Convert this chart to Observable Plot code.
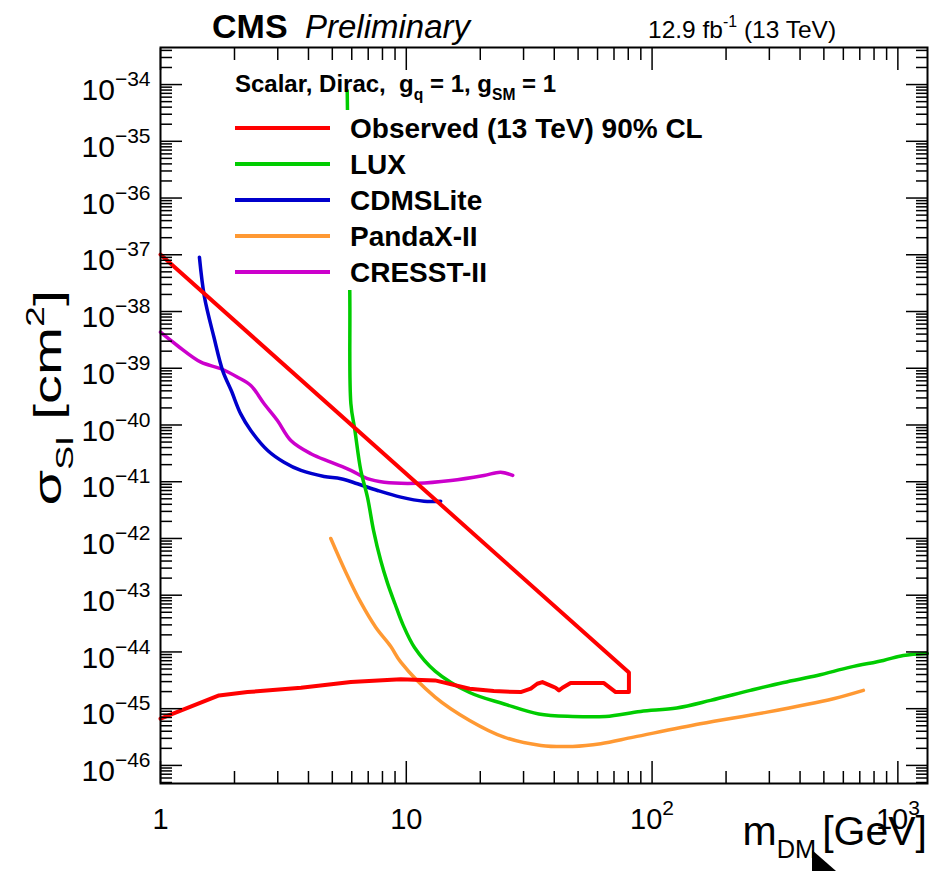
<!DOCTYPE html>
<html><head><meta charset="utf-8">
<script src="https://cdn.jsdelivr.net/npm/d3@7"></script>
<script src="https://cdn.jsdelivr.net/npm/@observablehq/plot@0.6"></script>
<style>
body{margin:0;background:#fff;}
#wrap{position:relative;width:941px;height:871px;}
svg{font-family:"Liberation Sans",Arial,Helvetica,sans-serif;}
</style></head><body><div id="wrap"></div>
<script>
// ---- data ----
const xMajorTicks = [1, 10, 100, 1000];
const xTickLabels = ["1", "10", "10^2", "10^3"];
const yMajorTicks = [1e-46,1e-45,1e-44,1e-43,1e-42,1e-41,1e-40,1e-39,1e-38,1e-37,1e-36,1e-35,1e-34];
const yTickLabels = ["10^-46","10^-45","10^-44","10^-43","10^-42","10^-41","10^-40","10^-39","10^-38","10^-37","10^-36","10^-35","10^-34"];

const seriesNames = ["Observed (13 TeV) 90% CL", "LUX", "CDMSLite", "PandaX-II", "CRESST-II"];
const seriesColors = ["#ff0000", "#00cc00", "#0000cc", "#ff9933", "#cc00cc"];

const observedMass  = [1.0, 80.5, 80.5, 71.1, 63.7, 46.6, 43.2, 41.8, 40.5, 39.3, 35.8, 34.1, 32.1, 29.2, 22.7, 18.1, 13.1, 9.5, 5.95, 3.73, 2.26, 1.73, 1.0];
const observedSigma = [1.01e-37, 4.35e-45, 1.96e-45, 1.96e-45, 2.83e-45, 2.83e-45, 2.34e-45, 2.1e-45, 2.34e-45, 2.47e-45, 2.94e-45, 2.75e-45, 2.25e-45, 1.96e-45, 2.04e-45, 2.25e-45, 3.15e-45, 3.3e-45, 2.94e-45, 2.34e-45, 1.96e-45, 1.71e-45, 6.65e-46];

const luxMass  = [5.75, 5.89, 5.95, 6.18, 6.53, 6.95, 7.36, 7.87, 8.4, 9.0, 9.7, 10.8, 13.1, 18.1, 25.0, 34.6, 47.5, 64.7, 89.8, 126, 173, 251, 343, 470, 641, 873, 1052, 1318];
const luxSigma = [7.84e-35, 2.16e-38, 2.39e-40, 8.0e-41, 1.58e-41, 5.35e-42, 1.38e-42, 4.09e-43, 1.6e-43, 7.0e-44, 3.0e-44, 1.2e-44, 4.6e-45, 1.93e-45, 1.21e-45, 8.07e-46, 7.3e-46, 7.3e-46, 8.95e-46, 1.03e-45, 1.4e-45, 2.1e-45, 2.9e-45, 3.85e-45, 5.4e-45, 7.08e-45, 8.67e-45, 9.4e-45];

const cdmsMass  = [1.44, 1.51, 1.65, 1.79, 1.94, 2.12, 2.33, 2.73, 3.18, 3.73, 4.63, 5.42, 6.33, 7.64, 9.5, 11.8, 13.8];
const cdmsSigma = [9.06e-38, 1.79e-38, 3.52e-39, 9.1e-40, 4.05e-40, 1.57e-40, 8.0e-41, 3.56e-41, 2.21e-41, 1.58e-41, 1.24e-41, 1.13e-41, 9.2e-42, 7.0e-42, 5.35e-42, 4.54e-42, 4.54e-42];

const pandaMass  = [4.93, 5.68, 6.53, 7.52, 8.65, 9.5, 13.1, 18.1, 25.0, 35.3, 47.5, 61.8, 84.1, 157, 294, 547, 724];
const pandaSigma = [1.0e-42, 2.52e-43, 7.45e-44, 2.7e-44, 1.25e-44, 6.6e-45, 1.6e-45, 6.2e-46, 3.15e-46, 2.25e-46, 2.16e-46, 2.41e-46, 3.15e-46, 5.43e-46, 8.7e-46, 1.5e-45, 2.1e-45];

const cresstMass  = [1.0, 1.17, 1.46, 1.76, 2.06, 2.33, 2.64, 2.99, 3.39, 4.09, 4.93, 5.95, 6.95, 8.13, 11.1, 15.2, 20.7, 24.2, 27.1];
const cresstSigma = [4.32e-39, 2.52e-39, 1.28e-39, 9.8e-40, 6.95e-40, 4.97e-40, 2.37e-40, 1.2e-40, 5.33e-41, 3.11e-41, 2.21e-41, 1.58e-41, 1.13e-41, 9.8e-42, 9.4e-42, 1.05e-41, 1.29e-41, 1.47e-41, 1.29e-41];

// ---- build tables ----
const pts = (m, s) => m.map((x, i) => ({x, y: s[i]}));
const observed = pts(observedMass, observedSigma);
const lux = pts(luxMass, luxSigma);
const cdms = pts(cdmsMass, cdmsSigma);
const panda = pts(pandaMass, pandaSigma);
const cresst = pts(cresstMass, cresstSigma);

const xMinor = xMajorTicks.flatMap(d => d3.range(2, 10).map(k => k * d)).filter(v => v < 1320);
const yMinor = [1e-47, ...yMajorTicks].flatMap(d => d3.range(2, 10).map(k => k * d)).filter(v => v > 4.8e-47 && v < 4.5e-34);

const xLabelMap = new Map(xMajorTicks.map((d, i) => [d, xTickLabels[i]]));
const yLabelMap = new Map(yMajorTicks.map((d, i) => [d, yTickLabels[i]]));

const tk = {color: "black", strokeWidth: 1.5, label: null, tickFormat: () => ""};

const svg = Plot.plot({
  width: 941, height: 871,
  marginLeft: 160, marginRight: 14, marginTop: 47, marginBottom: 88,
  x: {type: "log", domain: [1, 1320]},
  y: {type: "log", domain: [4.8e-47, 4.5e-34]},
  style: {background: "white", fontFamily: "'Liberation Sans', Arial, sans-serif", color: "black"},
  marks: [
    Plot.line(cresst, {x: "x", y: "y", stroke: seriesColors[4], strokeWidth: 3.5, curve: "catmull-rom"}),
    Plot.line(panda, {x: "x", y: "y", stroke: seriesColors[3], strokeWidth: 3.5, curve: "catmull-rom"}),
    Plot.line(cdms, {x: "x", y: "y", stroke: seriesColors[2], strokeWidth: 3.5, curve: "catmull-rom"}),
    Plot.line(lux, {x: "x", y: "y", stroke: seriesColors[1], strokeWidth: 3.5, curve: "catmull-rom"}),
    Plot.line(observed, {x: "x", y: "y", stroke: seriesColors[0], strokeWidth: 4, curve: "linear", strokeLinejoin: "round"}),
    Plot.axisX(xMinor, {anchor: "bottom", tickSize: -12, ...tk}),
    Plot.axisX(xMajorTicks, {anchor: "bottom", tickSize: -22, ...tk}),
    Plot.axisX(xMinor, {anchor: "top", tickSize: -12, ...tk}),
    Plot.axisX(xMajorTicks, {anchor: "top", tickSize: -22, ...tk}),
    Plot.axisY(yMinor, {anchor: "left", tickSize: -12, ...tk}),
    Plot.axisY(yMajorTicks, {anchor: "left", tickSize: -22, ...tk}),
    Plot.axisY(yMinor, {anchor: "right", tickSize: -12, ...tk}),
    Plot.axisY(yMajorTicks, {anchor: "right", tickSize: -22, ...tk}),
    Plot.axisX(xMajorTicks, {anchor: "bottom", tickSize: 0, tickPadding: 25, fontSize: 29, label: null, color: "black", tickFormat: d => xLabelMap.get(d)}),
    Plot.axisY(yMajorTicks, {anchor: "left", tickSize: 0, tickPadding: 10, fontSize: 30, dy: 6, label: null, color: "black", tickFormat: d => yLabelMap.get(d)}),
    Plot.frame({stroke: "black", strokeWidth: 2})
  ]
});
document.getElementById("wrap").appendChild(svg);

// superscripts in tick labels
svg.querySelectorAll("text").forEach(t => {
  const m = t.textContent.match(/^10\^(.+)$/);
  if (!m) return;
  t.textContent = "";
  const ns = "http://www.w3.org/2000/svg";
  const a = document.createElementNS(ns, "tspan"); a.textContent = "10";
  const b = document.createElementNS(ns, "tspan"); b.textContent = m[1].replace("-", "\u2212");
  b.setAttribute("dy", "-14"); b.setAttribute("font-size", "21");
  t.append(a, b);
});

const s = d3.select(svg);
function rich(g, x, y, parts, size, opts = {}) {
  const t = g.append("text").attr("x", x).attr("y", y).attr("font-size", size)
    .attr("fill", "black").attr("text-anchor", opts.anchor || "start")
    .attr("font-weight", opts.weight || "normal").style("white-space", "pre");
  let shift = 0;
  for (const p of parts) {
    const off = p.sub ? 0.32 * size : p.sup ? -0.45 * size : 0;
    const ts = t.append("tspan").text(p.t).attr("dy", off - shift);
    if (p.dx) ts.attr("dx", p.dx);
    if (p.sub || p.sup) ts.attr("font-size", size * (p.scale || 0.65));
    if (p.style) ts.attr("font-style", p.style);
    if (p.weight) ts.attr("font-weight", p.weight);
    shift = off;
  }
  return t;
}

// header texts
rich(s, 212, 38, [{t: "CMS"}], 34, {weight: "bold"});
rich(s, 305, 38, [{t: "Preliminary", style: "italic"}], 33);
rich(s, 648, 38, [{t: "12.9 fb"}, {sup: true, t: "-1"}, {t: " (13 TeV)"}], 24.5);

// axis titles
rich(s, 927, 845, [{t: "m"}, {sub: true, t: "DM", scale: 0.62}, {t: "[GeV]", dx: 6}], 41, {anchor: "end"});
const yt = s.append("g").attr("transform", "translate(61,290) rotate(-90) scale(1.5,1)");
rich(yt, 0, 0, [{t: "\u03c3"}, {sub: true, t: "SI", scale: 0.62}, {t: " [cm"}, {sup: true, t: "2"}, {t: "]"}], 38.5, {anchor: "end"});

// legend
const lg = s.append("g");
lg.append("rect").attr("x", 225).attr("y", 110).attr("width", 500).attr("height", 180).attr("fill", "white");
rich(lg, 235, 92, [{t: "Scalar, Dirac,  g"}, {sub: true, t: "q"}, {t: " = 1, g"}, {sub: true, t: "SM"}, {t: " = 1"}], 24, {weight: "bold"});
const rowY = [128, 164, 200, 236, 272];
seriesNames.forEach((name, i) => {
  lg.append("line").attr("x1", 235).attr("x2", 330).attr("y1", rowY[i]).attr("y2", rowY[i])
    .attr("stroke", seriesColors[i]).attr("stroke-width", 4);
  rich(lg, 350, rowY[i] + 10, [{t: name}], 28, {weight: "bold"});
});

// mouse pointer artifact
s.append("polygon").attr("points", "812,850 836,871 812,871").attr("fill", "black");
</script></body></html>
